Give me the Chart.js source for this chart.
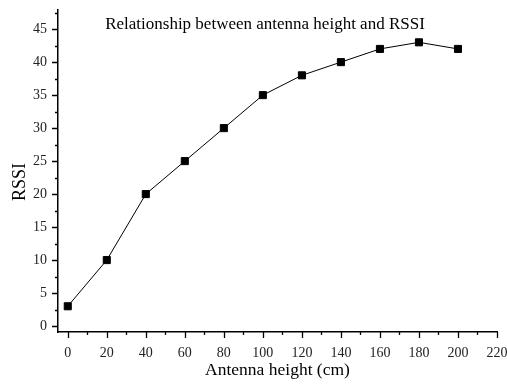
<!DOCTYPE html>
<html>
<head>
<meta charset="utf-8">
<script src="https://cdn.jsdelivr.net/npm/chart.js@4"></script>
<style>
  html, body { margin: 0; padding: 0; background: #fff; }
  #wrap { width: 507px; height: 385px; }
</style>
</head>
<body>
<div id="wrap"><canvas id="rssiChart"></canvas></div>
<script>
const heights = [0, 20, 40, 60, 80, 100, 120, 140, 160, 180, 200];
const rssi = [3, 10, 20, 25, 30, 35, 38, 40, 42, 43, 42];
const xTicks = [0, 20, 40, 60, 80, 100, 120, 140, 160, 180, 200, 220];
const yTicks = [0, 5, 10, 15, 20, 25, 30, 35, 40, 45];
const xMinor = [10, 30, 50, 70, 90, 110, 130, 150, 170, 190, 210];
const yMinor = [2.5, 7.5, 12.5, 17.5, 22.5, 27.5, 32.5, 37.5, 42.5, 47.5];

const serif = "'Liberation Serif', 'Times New Roman', serif";

// Origin-style outward ticks (major + minor), title inside the plot, y title
const originTicks = {
  id: "originTicks",
  afterDraw(chart) {
    const { ctx, chartArea, scales } = chart;
    ctx.save();
    ctx.strokeStyle = "#000";
    ctx.lineWidth = 1.3;
    ctx.beginPath();
    xTicks.forEach(v => { const p = Math.round(scales.x.getPixelForValue(v)) + 0.5; ctx.moveTo(p, chartArea.bottom); ctx.lineTo(p, chartArea.bottom + 6); });
    xMinor.forEach(v => { const p = Math.round(scales.x.getPixelForValue(v)) + 0.5; ctx.moveTo(p, chartArea.bottom); ctx.lineTo(p, chartArea.bottom + 3); });
    yTicks.forEach(v => { const p = Math.round(scales.y.getPixelForValue(v)) + 0.5; ctx.moveTo(chartArea.left, p); ctx.lineTo(chartArea.left - 6, p); });
    yMinor.forEach(v => { const p = Math.round(scales.y.getPixelForValue(v)) + 0.5; ctx.moveTo(chartArea.left, p); ctx.lineTo(chartArea.left - 3, p); });
    ctx.stroke();

    ctx.fillStyle = "#000";
    ctx.font = "17px " + serif;
    ctx.textAlign = "center";
    ctx.textBaseline = "middle";
    ctx.fillText("Relationship between antenna height and RSSI", 265, 25);

    ctx.translate(20, 182);
    ctx.rotate(-Math.PI / 2);
    ctx.font = "18px " + serif;
    ctx.fillText("RSSI", 0, 0);
    ctx.restore();
  }
};

new Chart(document.getElementById("rssiChart"), {
  type: "scatter",
  data: {
    datasets: [{
      data: heights.map((h, i) => ({ x: h, y: rssi[i] })),
      showLine: true,
      borderColor: "#000",
      borderWidth: 1,
      pointStyle: "rect",
      pointRadius: 5,
      pointBackgroundColor: "#000",
      pointBorderColor: "#000",
      pointBorderWidth: 1
    }]
  },
  options: {
    responsive: true, maintainAspectRatio: false,
    animation: false,
    layout: { padding: { top: 10, right: 10, left: 0, bottom: 0 } },
    plugins: { legend: { display: false }, tooltip: { enabled: false } },
    scales: {
      x: {
        type: "linear", min: -5, max: 220,
        afterBuildTicks: s => { s.ticks = xTicks.map(v => ({ value: v })); },
        afterFit: s => { s.height = 53; s.paddingLeft = 0; s.paddingRight = 0; },
        grid: { display: false, drawTicks: false },
        border: { display: true, color: "#000", width: 1.5 },
        ticks: { color: "#222", padding: 13, maxRotation: 0, font: { family: serif, size: 14 } },
        title: { display: true, text: "Antenna height (cm)", color: "#000", padding: { top: 2 }, font: { family: serif, size: 17.5 } }
      },
      y: {
        type: "linear", min: -0.9, max: 47.9,
        afterBuildTicks: s => { s.ticks = yTicks.map(v => ({ value: v })); },
        afterFit: s => { s.width = 58; s.paddingTop = 0; s.paddingBottom = 0; },
        grid: { display: false, drawTicks: false },
        border: { display: true, color: "#000", width: 1.5 },
        ticks: { color: "#222", padding: 11, font: { family: serif, size: 14 } }
      }
    }
  },
  plugins: [originTicks]
});
</script>
</body>
</html>
